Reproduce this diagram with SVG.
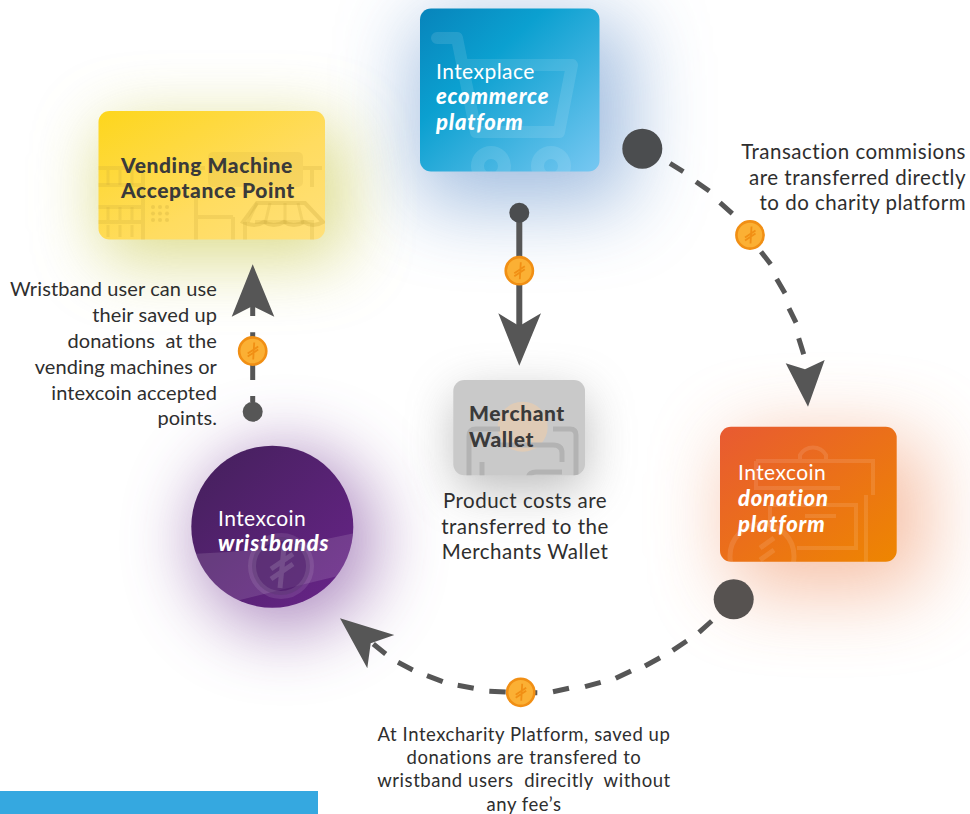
<svg xmlns="http://www.w3.org/2000/svg" width="970" height="814" viewBox="0 0 970 814">
<style>
text{font-family:"Lato","Noto Sans",sans-serif;white-space:pre}
.lbl{font-size:20.5px;fill:#2e2e2e;letter-spacing:.5px}
.sm{font-size:18.5px;letter-spacing:.55px}
.nr{font-size:20px;letter-spacing:.1px}
.r{text-anchor:end}.c{text-anchor:middle}
.t{font-size:21px;fill:#fff;letter-spacing:.45px}
.ti{font-size:22px;fill:#fff;font-weight:900;font-style:italic;letter-spacing:.8px}
.d{font-size:21px;fill:#3a3a3a;font-weight:900;letter-spacing:.6px}
.dash{fill:none;stroke:#565656;stroke-width:5}
.head{fill:#565656}
.dot{fill:#4b4d4f}
.gw{fill:none;stroke:#fff;stroke-opacity:.11}
.gy{fill:none;stroke:#c9a93c;stroke-opacity:.22}
</style>
<defs>
<filter id="b38" filterUnits="userSpaceOnUse" x="200" y="-200" width="650" height="650"><feGaussianBlur stdDeviation="40"/></filter>
<filter id="b30" filterUnits="userSpaceOnUse" x="-150" y="-100" width="700" height="600"><feGaussianBlur stdDeviation="34"/></filter>
<filter id="b35" filterUnits="userSpaceOnUse" x="500" y="200" width="700" height="600"><feGaussianBlur stdDeviation="40"/></filter>
<filter id="b28" filterUnits="userSpaceOnUse" x="0" y="250" width="600" height="600"><feGaussianBlur stdDeviation="36"/></filter>
<filter id="b22" filterUnits="userSpaceOnUse" x="300" y="250" width="450" height="400"><feGaussianBlur stdDeviation="24"/></filter>
<linearGradient id="gb" x1="0" y1="0" x2="1" y2="1"><stop offset="0" stop-color="#0784bb"/><stop offset=".35" stop-color="#0ba0d0"/><stop offset="1" stop-color="#78c8f2"/></linearGradient>
<linearGradient id="gy" x1="0" y1="0" x2="1" y2="1"><stop offset="0" stop-color="#fdd61c"/><stop offset=".6" stop-color="#ffdc60"/><stop offset="1" stop-color="#ffe07a"/></linearGradient>
<linearGradient id="go" x1="0" y1="0" x2="1" y2="1"><stop offset="0" stop-color="#e85a32"/><stop offset="1" stop-color="#ee8600"/></linearGradient>
<linearGradient id="gp" x1="0" y1="0" x2="1" y2="1"><stop offset="0" stop-color="#43205a"/><stop offset="1" stop-color="#69248a"/></linearGradient>
<clipPath id="cb"><rect x="420" y="8.5" width="179.500" height="163" rx="11"/></clipPath>
<clipPath id="cy"><rect x="98.500" y="111" width="226.500" height="128.500" rx="11"/></clipPath>
<clipPath id="co"><rect x="720" y="426.700" width="176.700" height="135" rx="11"/></clipPath>
<clipPath id="cm"><rect x="453.300" y="380" width="131.700" height="95.300" rx="11"/></clipPath>
<clipPath id="cp"><circle cx="272.300" cy="526.700" r="81"/></clipPath>
<g id="coin">
<circle r="13.600" fill="#fbb034" stroke="#f18f14" stroke-width="2.600"/>
<path d="M1.500-8.500L.5 8.500M-5 2.500L5.500-4.500M-5 5.500L5.500-1.500" fill="none" stroke="#f18f14" stroke-width="1.800"/>
</g>
</defs>

<g id="glows">
<rect x="415" y="20" width="215" height="185" rx="20" fill="#7ea4d4" opacity=".72" filter="url(#b38)"/>
<rect x="100" y="125" width="245" height="135" rx="20" fill="#cfcf60" opacity=".72" filter="url(#b30)"/>
<rect x="730" y="440" width="195" height="150" rx="20" fill="#f09468" opacity=".6" filter="url(#b35)"/>
<circle cx="285" cy="540" r="90" fill="#8f5fa8" opacity=".72" filter="url(#b28)"/>
<rect x="455" y="395" width="130" height="95" rx="14" fill="#a0a0a0" opacity=".7" filter="url(#b22)"/>
</g>

<g id="connectors">
<line x1="519.300" y1="212.700" x2="519.300" y2="330" stroke="#565656" stroke-width="6"/>
<polygon class="head" points="519.300,365.700 498.300,313.300 519.300,326 541,313.300"/>
<circle class="dot" cx="519.300" cy="212.700" r="10"/>

<path class="dash" d="M670 163.300L683.300 171.700M696 181.700L709.300 191M720 202.700L732.300 213.700M761 251.700L770.700 264.300M776.700 279L785 293.300M789 308.300L796 322.700M798.700 338.300L803.700 354.300"/>
<polygon class="head" points="808,406.700 785.700,363.300 805,369.300 824.700,360"/>
<circle class="dot" cx="642.300" cy="148.700" r="20"/>

<path class="dash" d="M711.700 621L699 632.300M686.700 641L672.700 650.300M660 657.700L645 666M631 671L615.700 678.300M600.700 682.300L585 686.700M569 688.300L553 691.700M537.300 692.700L520 692.500M505.700 692L489.300 691.300M473.700 688.300L457.700 685.300M442.700 681.700L427 675.700M412.700 670L398 662.300M385.700 654L373.300 644"/>
<polygon class="head" points="340,618.300 394.300,635 370.700,643.300 367.300,668.300"/>
<circle cx="733.700" cy="599.300" r="20" fill="#565250"/>

<path class="dash" d="M252.700 402V396M252.700 380V332.300M252.700 316V306"/>
<polygon class="head" points="252.700,264.300 231.700,316.700 252.700,306 274.300,316.700"/>
<circle cx="252.700" cy="411.700" r="10" fill="#565656"/>
</g>

<g id="coins">
<use href="#coin" x="519.300" y="270.700"/>
<use href="#coin" x="750" y="235"/>
<use href="#coin" x="520.700" y="692.300"/>
<use href="#coin" x="252.700" y="351"/>
</g>

<g id="node-ecommerce">
<rect x="420" y="8.500" width="179.500" height="163" rx="11" fill="url(#gb)"/>
<g clip-path="url(#cb)">
<path class="gw" stroke-width="12" stroke-linecap="round" stroke-linejoin="round" d="M437 38H457L476 132H559L572 65H463"/>
<circle class="gw" cx="491" cy="166" r="13.500" stroke-width="13"/>
<circle class="gw" cx="551" cy="166" r="13.500" stroke-width="13"/>
</g>
<text class="t" x="436" y="79">Intexplace</text>
<text class="ti" x="436" y="104">ecommerce</text>
<text class="ti" x="436" y="130">platform</text>
</g>

<g id="node-vending">
<rect x="98.500" y="111" width="226.500" height="128.500" rx="11" fill="url(#gy)"/>
<g clip-path="url(#cy)">
<rect x="208" y="152" width="95" height="35" rx="5" fill="#c9a93c" fill-opacity=".16"/>
<path class="gy" stroke-width="4" d="M95 168H143V240M95 185H143M95 207H143M95 222H143M196 190V240M198 217H233M233 217V240M245 222V240M255 222H312V240M303 168H322M312 168V187M180 168H205"/>
<path class="gy" stroke-width="3" d="M108 170V185M120 170V185M132 170V185M108 207V220M120 207V220M132 207V220M108 225V237M120 225V237M132 225V237"/>
<path fill="none" stroke="#c9a93c" stroke-opacity=".3" stroke-width="4" d="M243 222L257 203H305L323 222Q313 228 304 222Q294 228 284 222Q274 228 264 222Q254 228 243 222Z"/>
<path class="gy" stroke-width="3" d="M257 203L248 222M270 203L265 224M285 203L285 224M298 203L303 224"/>
<g fill="#c9a93c" fill-opacity=".3"><circle cx="153" cy="207" r="2"/><circle cx="160" cy="207" r="2"/><circle cx="167" cy="207" r="2"/><circle cx="153" cy="213.500" r="2"/><circle cx="160" cy="213.500" r="2"/><circle cx="167" cy="213.500" r="2"/><circle cx="153" cy="220" r="2"/><circle cx="160" cy="220" r="2"/><circle cx="167" cy="220" r="2"/></g>
</g>
<text class="d" x="121" y="172.700">Vending Machine</text>
<text class="d" x="121" y="198">Acceptance Point</text>
</g>

<g id="node-merchant">
<rect x="453.300" y="380" width="131.700" height="95.300" rx="11" fill="#c9c9c9"/>
<g clip-path="url(#cm)">
<circle cx="522.700" cy="426.700" r="25" fill="#dfcbb6"/>
<path fill="none" stroke="#b3b3b3" stroke-width="5" d="M469 480V436Q469 429 476 429H500M553 429H570Q576 429 576 435V480M482 480V462M528 480Q528 472 536 472H562M500 445H553Q562 445 562 453V462"/>
</g>
<text class="d" x="469" y="421">Merchant</text>
<text class="d" x="469" y="447">Wallet</text>
</g>

<g id="node-donation">
<rect x="720" y="426.700" width="176.700" height="135" rx="11" fill="url(#go)"/>
<g clip-path="url(#co)">
<path class="gw" stroke-width="4" d="M756 461H873V495M756 461V488H840M800 461V455A15 15 0 0 1 826 455V461M866 495V565M770 505H856V548H797M805 516H836M770 505V530"/>
<circle class="gw" cx="762" cy="556" r="32" stroke-width="5"/>
<path d="M760 548L774 538M760 560L774 550" stroke="#fff" stroke-opacity=".11" stroke-width="5"/>
</g>
<text class="t" x="738" y="480">Intexcoin</text>
<text class="ti" x="738" y="506">donation</text>
<text class="ti" x="738" y="532">platform</text>
</g>

<g id="node-wristbands">
<circle cx="272.300" cy="526.700" r="81" fill="url(#gp)"/>
<g clip-path="url(#cp)">
<path fill="#fff" fill-opacity=".12" d="M190 554Q270 552 355 533V572Q300 585 240 600L190 600Z"/>
<circle cx="281" cy="566" r="29" fill="#4a2263" fill-opacity=".45" stroke="#fff" stroke-opacity=".1" stroke-width="8"/>
<path d="M284 547L280 588M271 569L293 554M271 579L293 564" fill="none" stroke="#fff" stroke-opacity=".14" stroke-width="5"/>
</g>
<text class="t" x="218" y="526">Intexcoin</text>
<text class="ti" x="218" y="551">wristbands</text>
</g>

<g id="labels">
<text class="lbl r" x="966" y="159">Transaction commisions</text>
<text class="lbl r" x="966" y="184.500">are transferred directly</text>
<text class="lbl r" x="966" y="210">to do charity platform</text>
<text class="lbl r nr" x="217" y="296">Wristband user can use</text>
<text class="lbl r nr" x="217" y="322">their saved up</text>
<text class="lbl r nr" x="217" y="348">donations  at the</text>
<text class="lbl r nr" x="217" y="374">vending machines or</text>
<text class="lbl r nr" x="217" y="400">intexcoin accepted</text>
<text class="lbl r nr" x="217" y="425">points.</text>
<text class="lbl c" x="525" y="508">Product costs are</text>
<text class="lbl c" x="525" y="534">transferred to the</text>
<text class="lbl c" x="525" y="559">Merchants Wallet</text>
<text class="lbl c sm" x="524" y="741">At Intexcharity Platform, saved up</text>
<text class="lbl c sm" x="524" y="764">donations are transfered to</text>
<text class="lbl c sm" x="524" y="787">wristband users  direcitly  without</text>
<text class="lbl c sm" x="524" y="811">any fee’s</text>
</g>

<rect id="bar" x="0" y="791" width="318" height="23" fill="#35a8e0"/>
</svg>
